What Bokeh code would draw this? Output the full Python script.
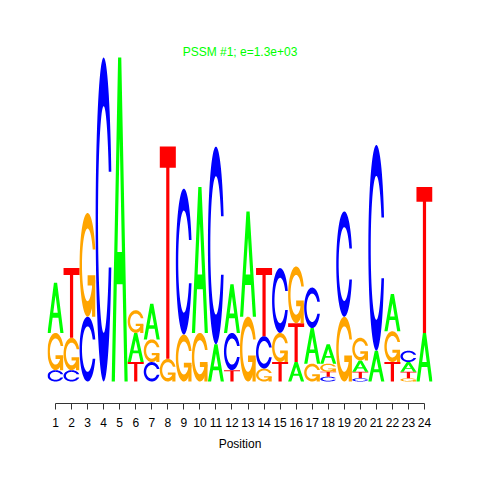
import numpy as np
from bokeh.plotting import figure
from bokeh.models import ColumnDataSource, FixedTicker, Label
from bokeh.embed import file_html
from bokeh.resources import INLINE

# ---- data (information content in bits, per letter and position) ----
positions = list(range(1, 25))
A = [0.31, 0, 0, 0, 2.00, 0.18, 0.22, 0, 0, 0.90, 0.23, 0.30, 0.65, 0, 0, 0.12, 0.22, 0.12, 0, 0.07, 0.19, 0.23, 0.06, 0.30]
C = [0.07, 0.07, 0.40, 2.00, 0, 0, 0.12, 0, 0.90, 0, 1.22, 0.23, 0, 0.20, 0.40, 0, 0.25, 0.03, 0.65, 0.02, 1.27, 0, 0.07, 0]
G = [0.23, 0.20, 0.64, 0, 0, 0.14, 0.14, 0.14, 0.29, 0.30, 0, 0, 0.40, 0.08, 0.18, 0.35, 0.11, 0.05, 0.40, 0.14, 0, 0.19, 0.02, 0]
T = [0, 0.43, 0, 0, 0, 0.12, 0, 1.31, 0, 0, 0, 0.07, 0, 0.42, 0.12, 0.24, 0, 0.03, 0, 0.04, 0, 0.12, 0.04, 0.90]
# stacking order per position, bottom -> top
order = ["CGA", "CGT", "CG", "C", "A", "TAG", "CGA", "GT", "GC", "GA", "AC", "TCA",
         "GA", "GCT", "TGC", "ATG", "GAC", "CTGA", "GC", "CTAG", "AC", "TGA", "GTAC", "AT"]
tick_labels = [str(i) for i in positions]
title_text = "PSSM #1; e=1.3e+03"
x_label = "Position"

heights = {"A": A, "C": C, "G": G, "T": T}
colors = {"A": "#00FF00", "C": "#0000FF", "G": "#FFA500", "T": "#FF0000"}

# ---- letter outlines in a unit box ----
def c_ring(n=80):
    gap = 0.3
    t_out = np.linspace(gap, 2 * np.pi - gap, n)
    ox = 0.5 + 0.5 * np.cos(t_out)
    oy = 0.5 + 0.5 * np.sin(t_out)
    ti = np.arcsin(0.5 * np.sin(gap) / 0.35)
    t_in = np.linspace(2 * np.pi - ti, ti, n)
    ix = 0.5 + 0.35 * np.cos(t_in)
    iy = 0.5 + 0.35 * np.sin(t_in)
    return (list(np.concatenate([ox, ix])), list(np.concatenate([oy, iy])))

ring = c_ring()
r1 = 0.5 + 0.5 * np.cos(0.3)
shapes = {
    "A": [[([0, 0.4, 0.6, 1, 0.8, 0.68, 0.32, 0.2], [0, 1, 1, 0, 0, 0.3, 0.3, 0]),
           ([0.36, 0.5, 0.64], [0.4, 0.75, 0.4])]],
    "C": [[ring]],
    "G": [[ring],
          [([r1, 0.5, 0.5, r1 - 0.2, r1 - 0.2, r1], [0.4, 0.4, 0.3, 0.3, 0.0, 0.0])]],
    "T": [[([0, 1, 1, 0.6, 0.6, 0.4, 0.4, 0], [1, 1, 0.9, 0.9, 0, 0, 0.9, 0.9])]],
}

xs, ys, cols = [], [], []
for i, pos in enumerate(positions):
    y0 = 0.0
    x0 = pos - 0.5
    for let in order[i]:
        h = heights[let][i]
        if h <= 0:
            continue
        for poly in shapes[let]:
            xs.append([[[x0 + float(v) for v in rx] for (rx, ry) in poly]])
            ys.append([[[y0 + h * float(v) for v in ry] for (rx, ry) in poly]])
            cols.append(colors[let])
        y0 += h

src = ColumnDataSource(dict(xs=xs, ys=ys, color=cols))

p = figure(width=464, height=464, output_backend="svg", toolbar_location=None,
           x_range=(0.5, 24.5), y_range=(-0.1358, 2.1667),
           x_axis_location="below", y_axis_location=None,
           min_border_left=47, min_border_right=32, min_border_top=30, min_border_bottom=61)
p.outline_line_color = None
p.xgrid.visible = False
p.ygrid.visible = False
p.background_fill_color = "white"
p.border_fill_color = "white"

p.multi_polygons(xs="xs", ys="ys", fill_color="color", line_color=None, source=src)

ax = p.xaxis[0]
ax.ticker = FixedTicker(ticks=positions)
ax.major_label_overrides = {pos: lab for pos, lab in zip(positions, tick_labels)}
ax.bounds = (1, 24)
ax.minor_tick_line_color = None
ax.major_tick_in = 0
ax.major_tick_out = 6
ax.axis_line_color = "#333333"
ax.major_tick_line_color = "#333333"
ax.major_label_text_font = "Liberation Sans"
ax.major_label_text_font_size = "12px"
ax.major_label_text_color = "black"
ax.major_label_standoff = 8
ax.axis_label = x_label
ax.axis_label_text_font = "Liberation Sans"
ax.axis_label_text_font_size = "12px"
ax.axis_label_text_font_style = "normal"
ax.axis_label_text_color = "black"
ax.axis_label_standoff = 7

title = Label(x=12.5, y=2.031, text=title_text, text_align="center", text_baseline="middle",
              text_font="Liberation Sans", text_font_size="12px", text_color="#00FF00")
p.add_layout(title)

open("out.html", "w").write(file_html(p, INLINE))
